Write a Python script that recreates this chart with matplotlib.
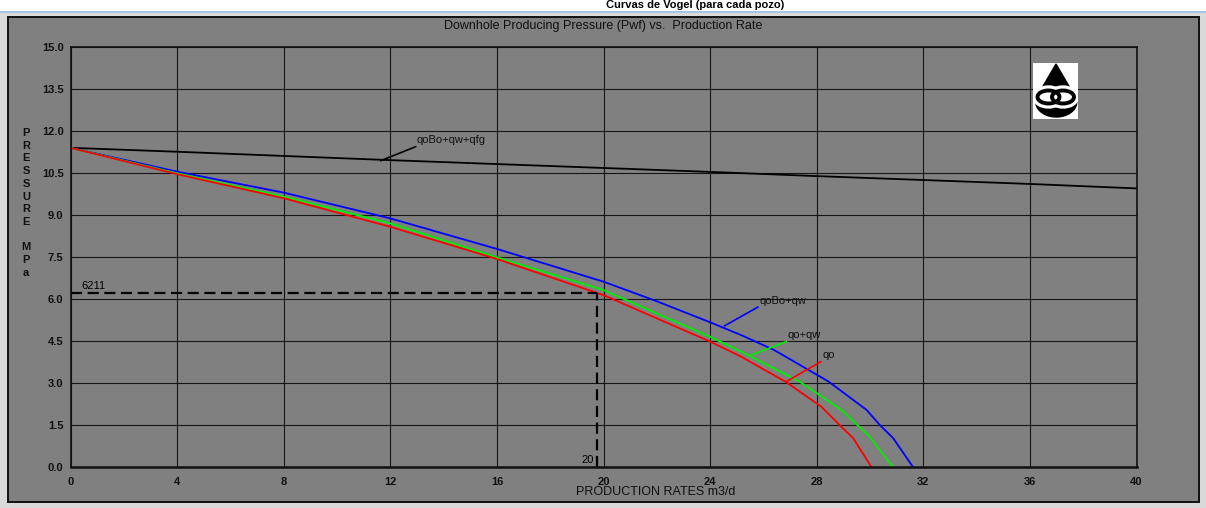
import numpy as np
import matplotlib.pyplot as plt
from matplotlib.patches import Rectangle, Polygon, Ellipse

# data (rate m3/d, pressure MPa)
x_total = [0, 4, 8, 12, 16, 20, 24, 28, 32, 36, 40]
p_total = [11.41, 11.27, 11.12, 10.97, 10.83, 10.69, 10.55, 10.40, 10.26, 10.12, 9.96]

x_qobo_qw = [0, 4, 8, 12, 16, 20, 22, 24, 25.17, 26.4, 28.45, 29.87, 30.37, 30.87, 31.62]
p_qobo_qw = [11.41, 10.56, 9.81, 8.89, 7.80, 6.63, 5.93, 5.18, 4.72, 4.19, 3.06, 2.05, 1.51, 1.04, 0.0]

x_qo_qw = [0, 4, 8, 12, 16, 20, 24, 25.17, 27.36, 28.93, 29.99, 30.87]
p_qo_qw = [11.41, 10.50, 9.67, 8.71, 7.50, 6.33, 4.66, 4.13, 3.06, 2.05, 1.09, 0.0]

x_qo = [0, 4, 8, 12, 16, 20, 24, 25.17, 26.86, 28.18, 28.86, 29.37, 30.06]
p_qo = [11.41, 10.47, 9.61, 8.59, 7.44, 6.15, 4.49, 3.95, 3.04, 2.16, 1.51, 1.04, 0.0]

op_rate = 19.75
op_pwf = 6.211

x_ticks = [0, 4, 8, 12, 16, 20, 24, 28, 32, 36, 40]
y_ticks = [0.0, 1.5, 3.0, 4.5, 6.0, 7.5, 9.0, 10.5, 12.0, 13.5, 15.0]

W, H = 1206, 508
fig = plt.figure(figsize=(W / 100, H / 100), dpi=100, facecolor='white')

def fx(px):
    return px / W

def fy(py):
    return 1 - py / H

# window chrome (kept below the axes)
fig.patches.append(Rectangle((0, 0), 1, fy(12), transform=fig.transFigure,
                             facecolor='#d9d9d9', edgecolor='none', zorder=-10))
fig.patches.append(Rectangle((0, fy(13)), 1, fy(11) - fy(13), transform=fig.transFigure,
                             facecolor='#a9c4e0', edgecolor='none', zorder=-9))
fig.patches.append(Rectangle((fx(8), fy(502)), fx(1199) - fx(8), fy(17) - fy(502),
                             transform=fig.transFigure, facecolor='#808080',
                             edgecolor='#101010', linewidth=1.4, zorder=-8))

# heading in the top strip
fig.text(fx(695), fy(0.5), 'Curvas de Vogel (para cada pozo)', ha='center', va='top',
         fontsize=8, fontweight='bold', family='Liberation Sans', color='black')

ax = fig.add_axes([fx(70.5), fy(467.3), fx(1136.5) - fx(70.5), fy(47.3) - fy(467.3)])
ax.set_facecolor('#808080')
ax.set_xlim(0, 40)
ax.set_ylim(0, 15)
ax.set_xticks(x_ticks)
ax.set_yticks(y_ticks)
ax.set_xticklabels([str(v) for v in x_ticks])
ax.set_yticklabels(['%.1f' % v for v in y_ticks])
ax.grid(True, color='#151515', linewidth=0.8)
ax.set_axisbelow(True)
ax.tick_params(length=0, labelsize=8, colors='#101010')
ax.tick_params(axis='y', pad=5)
ax.tick_params(axis='x', pad=7)
for lbl in ax.get_xticklabels() + ax.get_yticklabels():
    lbl.set_fontweight('bold')
    lbl.set_family('Liberation Sans')
for s in ax.spines.values():
    s.set_color('#101010')
    s.set_linewidth(1.2)
ax.spines['bottom'].set_linewidth(1.8)

ax.plot(x_total, p_total, color='black', lw=1.3)
ax.plot(x_qobo_qw, p_qobo_qw, color='#0000ff', lw=1.3)
ax.plot(x_qo_qw, p_qo_qw, color='#00ee00', lw=1.3)
ax.plot(x_qo, p_qo, color='#ff0000', lw=1.3)

# operating point
ax.plot([0, op_rate], [op_pwf, op_pwf], color='black', lw=1.6, ls=(0, (5, 2.5)))
ax.plot([op_rate, op_rate], [0, op_pwf], color='black', lw=1.6, ls=(0, (5, 2.5)))
ax.text(0.4, op_pwf + 0.08, '6211', fontsize=8, family='Liberation Sans', va='bottom')
ax.text(op_rate - 0.1, 0.1, '20', fontsize=8, family='Liberation Sans', ha='right', va='bottom')

# curve labels with leader lines
labels = [
    ('qoBo+qw+qfg', 'black', (11.64, 10.95), (12.95, 11.45)),
    ('qoBo+qw', '#0000ff', (24.54, 5.05), (25.79, 5.72)),
    ('qo+qw', '#00ee00', (25.55, 4.01), (26.86, 4.49)),
    ('qo', '#ff0000', (26.86, 3.06), (28.15, 3.77)),
]
for text, col, p0, p1 in labels:
    ax.plot([p0[0], p1[0]], [p0[1], p1[1]], color=col, lw=1.2)
    ax.text(p1[0] + 0.05, p1[1] + 0.05, text, fontsize=8, family='Liberation Sans',
            color='#101010', va='bottom', ha='left')

ax.set_title('Downhole Producing Pressure (Pwf) vs.  Production Rate', fontsize=9,
             family=['Liberation Sans Narrow', 'Liberation Sans'], color='#101010', pad=13)

fig.text(fx(656), fy(492), 'PRODUCTION RATES m3/d', ha='center', va='center', fontsize=9,
         family=['Liberation Sans Narrow', 'Liberation Sans'], color='#101010')

# stacked y label
ylab = ['P', 'R', 'E', 'S', 'S', 'U', 'R', 'E', '', 'M', 'P', 'a']
for i, ch in enumerate(ylab):
    if ch:
        fig.text(fx(26), fy(133 + i * 12.7), ch, ha='center', va='center', fontsize=8,
                 fontweight='bold', family='Liberation Sans', color='#101010')

# logo: drop with two linked rings
lg = fig.add_axes([fx(1033), fy(119), fx(45), fy(0) - fy(56)])
lg.set_facecolor('white')
lg.set_xlim(0, 45)
lg.set_ylim(0, 56)
lg.set_xticks([])
lg.set_yticks([])
for s in lg.spines.values():
    s.set_visible(False)
lg.add_patch(Polygon([[23, 55], [9, 31], [37, 31]], closed=True, color='black'))
t = np.linspace(np.pi, 2 * np.pi, 60)
bowl = np.column_stack([23.3 + 20.5 * np.cos(t), 17 + 15 * np.sin(t)])
lg.add_patch(Polygon(bowl, closed=True, color='black'))
for cx in (15.5, 30.0):
    lg.add_patch(Ellipse((cx, 22), 24, 15, facecolor='none', edgecolor='white', lw=6))
for cx in (15.5, 30.0):
    lg.add_patch(Ellipse((cx, 22), 22, 13, facecolor='none', edgecolor='black', lw=2.8))

fig.savefig('out.png', dpi=100, facecolor='white')
